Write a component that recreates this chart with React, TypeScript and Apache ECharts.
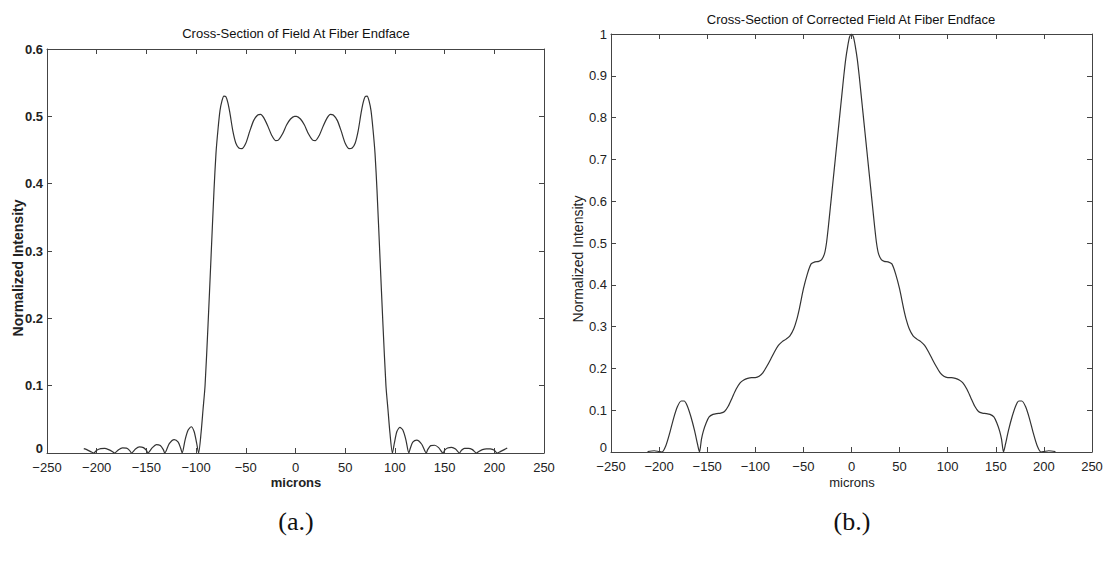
import React, { useEffect, useRef } from "react";
import * as echarts from "echarts";

// ---- Data: (a.) Cross-Section of Field At Fiber Endface ----
const fieldX = [
  -213, -210, -206, -203, -200, -196, -192, -188, -184, -182,
  -178, -174, -170, -167, -165, -161, -157, -153, -150, -148.5,
  -144, -140, -136, -133, -131.5, -127, -122, -118, -115.5, -114,
  -111, -108, -105, -102, -99.5, -97.5, -95, -93, -91, -88,
  -85, -82, -80, -78, -76, -74, -72, -70, -68, -66,
  -63, -60, -57, -54, -50, -46, -42, -38, -35, -32,
  -28, -24, -20, -17, -13, -9, -5, -1, 1, 5,
  9, 13, 17, 20, 24, 28, 32, 35, 38, 42,
  46, 50, 54, 57, 60, 63, 66, 68, 70, 72,
  74, 76, 78, 80, 82, 85, 88, 91, 93, 95,
  97.5, 99.5, 102, 105, 108, 111, 114, 115.5, 118, 122,
  127, 131.5, 133, 136, 140, 144, 148.5, 150, 153, 157,
  161, 165, 167, 170, 174, 178, 182, 184, 188, 192,
  196, 200, 203, 206, 210, 213,
];
const fieldY = [
  0.0065, 0.005, 0.002, 0.0, 0.004, 0.0065, 0.0068, 0.005, 0.002, 0.0,
  0.005, 0.0075, 0.0072, 0.004, 0.0, 0.006, 0.009, 0.008, 0.004, 0.0,
  0.008, 0.0125, 0.011, 0.005, 0.0, 0.014, 0.02, 0.016, 0.007, 0.0,
  0.02, 0.034, 0.039, 0.032, 0.015, 0.0, 0.03, 0.065, 0.1, 0.19,
  0.29, 0.39, 0.445, 0.48, 0.508, 0.523, 0.53, 0.529, 0.52, 0.505,
  0.478, 0.46, 0.453, 0.452, 0.46, 0.478, 0.494, 0.502, 0.503, 0.498,
  0.486, 0.472, 0.464, 0.465, 0.474, 0.487, 0.496, 0.5, 0.5, 0.496,
  0.487, 0.474, 0.465, 0.464, 0.472, 0.486, 0.498, 0.503, 0.502, 0.494,
  0.478, 0.46, 0.452, 0.453, 0.46, 0.478, 0.505, 0.52, 0.529, 0.53,
  0.523, 0.508, 0.48, 0.445, 0.39, 0.29, 0.19, 0.1, 0.065, 0.03,
  0.0, 0.015, 0.032, 0.038, 0.034, 0.02, 0.0, 0.007, 0.016, 0.019,
  0.013, 0.0, 0.005, 0.011, 0.0115, 0.008, 0.0, 0.004, 0.0075, 0.0085,
  0.006, 0.0, 0.004, 0.007, 0.007, 0.005, 0.0, 0.002, 0.005, 0.0062,
  0.006, 0.004, 0.0, 0.002, 0.005, 0.0075,
];

// ---- Data: (b.) Cross-Section of Corrected Field At Fiber Endface ----
const correctedX = [
  -212, -205, -200, -197, -193, -189, -185, -181, -177, -174,
  -171, -167, -163, -160, -158, -156, -154, -151, -148, -144,
  -140, -136, -132, -128, -124, -120, -116, -112, -108, -104,
  -100, -96, -92, -88, -84, -80, -76, -72, -68, -64,
  -60, -57, -54, -50, -46, -42, -38, -34, -31, -28,
  -26, -24, -22, -20, -18, -16, -14, -12, -10, -8,
  -6, -4, -2, 0, 2, 4, 6, 8, 10, 12,
  14, 16, 18, 20, 22, 24, 26, 28, 31, 34,
  38, 42, 46, 50, 54, 57, 60, 64, 68, 72,
  76, 80, 84, 88, 92, 96, 100, 104, 108, 112,
  116, 120, 124, 128, 132, 136, 140, 144, 148, 151,
  154, 156, 158, 160, 163, 167, 171, 174, 177, 181,
  185, 189, 193, 197, 200, 205, 212,
];
const correctedY = [
  0.001, 0.003, 0.001, 0.0, 0.015, 0.045, 0.08, 0.108, 0.122, 0.122,
  0.112, 0.085, 0.05, 0.018, 0.0, 0.03, 0.05, 0.07, 0.084, 0.09,
  0.092, 0.093, 0.097, 0.11, 0.13, 0.15, 0.165, 0.172, 0.176, 0.178,
  0.178, 0.181, 0.19, 0.205, 0.222, 0.24, 0.255, 0.264, 0.27, 0.278,
  0.295, 0.316, 0.345, 0.39, 0.425, 0.45, 0.455, 0.456, 0.46, 0.475,
  0.5, 0.54, 0.585, 0.63, 0.675, 0.72, 0.765, 0.81, 0.855, 0.9,
  0.94, 0.97, 0.993, 1.0, 0.993, 0.97, 0.94, 0.9, 0.855, 0.81,
  0.765, 0.72, 0.675, 0.63, 0.585, 0.54, 0.5, 0.475, 0.46, 0.456,
  0.455, 0.45, 0.425, 0.39, 0.345, 0.316, 0.295, 0.278, 0.27, 0.264,
  0.255, 0.24, 0.222, 0.205, 0.19, 0.181, 0.178, 0.178, 0.176, 0.172,
  0.165, 0.15, 0.13, 0.11, 0.097, 0.093, 0.092, 0.09, 0.084, 0.07,
  0.05, 0.03, 0.0, 0.018, 0.05, 0.085, 0.112, 0.122, 0.122, 0.108,
  0.08, 0.045, 0.015, 0.0, 0.001, 0.003, 0.001,
];

// ---- Axes / texts ----
const xMin = -250;
const xMax = 250;
const xStep = 50;
const leftYMax = 0.6;
const rightYMax = 1;
const yStep = 0.1;
const titleA = "Cross-Section of Field At Fiber Endface";
const titleB = "Cross-Section of Corrected Field At Fiber Endface";
const xName = "microns";
const yName = "Normalized Intensity";
const captionA = "(a.)";
const captionB = "(b.)";

const SANS = "'Liberation Sans', Arial, Helvetica, sans-serif";
const SERIF = "'Liberation Serif', 'Times New Roman', serif";
const INK = "#222";
const FRAME = "#444";

const fmtX = (v: number) => String(v).replace("-", "\u2212");
const fmtY = (v: number) => {
  const r = Math.round(v * 10) / 10;
  if (r === 0) return "{z|0}";
  if (r === 1) return "1";
  return r.toFixed(1);
};

function pairs(xs: number[], ys: number[]) {
  return xs.map((x, i) => [x, ys[i]]);
}

function txt(text: string, x: number, y: number, size: number, opts: any = {}) {
  return {
    type: "text",
    x,
    y,
    rotation: opts.rotation || 0,
    silent: true,
    style: {
      text,
      fill: opts.fill || INK,
      fontSize: size,
      fontFamily: opts.family || SANS,
      fontWeight: opts.weight || "normal",
      align: "center",
      verticalAlign: "middle",
      textAlign: "center",
      textVerticalAlign: "middle",
    },
  };
}

export default function App() {
  const ref = useRef<HTMLDivElement>(null);

  useEffect(() => {
    document.body.style.margin = "0";
    document.body.style.background = "#fff";
    if (!ref.current) return;
    const chart = echarts.init(ref.current, undefined, { renderer: "svg" });

    const xBottom = (grid: number) => ({
      type: "value",
      gridIndex: grid,
      position: "bottom",
      min: xMin,
      max: xMax,
      interval: xStep,
      axisLine: { show: true, onZero: false, lineStyle: { color: FRAME, width: 1 } },
      axisTick: { show: true, inside: true, length: 5, lineStyle: { color: FRAME } },
      axisLabel: {
        show: true,
        formatter: fmtX,
        fontSize: 13,
        fontFamily: SANS,
        color: INK,
        margin: 8,
        showMinLabel: true,
        showMaxLabel: true,
      },
      splitLine: { show: false },
    });
    const xTop = (grid: number) => ({
      type: "value",
      gridIndex: grid,
      position: "top",
      min: xMin,
      max: xMax,
      interval: xStep,
      axisLine: { show: true, onZero: false, lineStyle: { color: FRAME, width: 1 } },
      axisTick: { show: true, inside: true, length: 5, lineStyle: { color: FRAME } },
      axisLabel: { show: false },
      splitLine: { show: false },
    });
    const yLeft = (grid: number, max: number, bold: boolean) => ({
      type: "value",
      gridIndex: grid,
      position: "left",
      min: 0,
      max,
      interval: yStep,
      axisLine: { show: true, onZero: false, lineStyle: { color: FRAME, width: 1 } },
      axisTick: { show: true, inside: true, length: 5, lineStyle: { color: FRAME } },
      axisLabel: {
        show: true,
        formatter: fmtY,
        fontSize: 13,
        fontFamily: SANS,
        color: INK,
        margin: 4,
        fontWeight: bold ? "bold" : "normal",
        showMinLabel: true,
        showMaxLabel: true,
        rich: {
          z: {
            fontSize: 13,
            fontFamily: SANS,
            color: INK,
            fontWeight: bold ? "bold" : "normal",
            padding: [0, 0, 9, 0],
          },
        },
      },
      splitLine: { show: false },
    });
    const yRight = (grid: number, max: number) => ({
      type: "value",
      gridIndex: grid,
      position: "right",
      min: 0,
      max,
      interval: yStep,
      axisLine: { show: true, onZero: false, lineStyle: { color: FRAME, width: 1 } },
      axisTick: { show: true, inside: true, length: 5, lineStyle: { color: FRAME } },
      axisLabel: { show: false },
      splitLine: { show: false },
    });

    chart.setOption({
      animation: false,
      backgroundColor: "#ffffff",
      grid: [
        { left: 47, top: 49, width: 497, height: 404, containLabel: false },
        { left: 611, top: 34, width: 481, height: 418, containLabel: false },
      ],
      xAxis: [xBottom(0), xTop(0), xBottom(1), xTop(1)],
      yAxis: [yLeft(0, leftYMax, true), yRight(0, leftYMax), yLeft(1, rightYMax, false), yRight(1, rightYMax)],
      series: [
        {
          type: "line",
          xAxisIndex: 0,
          yAxisIndex: 0,
          data: pairs(fieldX, fieldY),
          showSymbol: false,
          smooth: 0.25,
          lineStyle: { color: "#333", width: 1.2 },
          silent: true,
        },
        {
          type: "line",
          xAxisIndex: 2,
          yAxisIndex: 2,
          data: pairs(correctedX, correctedY),
          showSymbol: false,
          smooth: 0.25,
          lineStyle: { color: "#333", width: 1.2 },
          silent: true,
        },
      ],
      graphic: [
        txt(titleA, 296, 33, 13, { fill: "#111" }),
        txt(titleB, 851, 19, 13, { fill: "#111" }),
        txt(yName, 18, 268, 14, { rotation: Math.PI / 2, weight: "bold" }),
        txt(yName, 578, 259, 14, { rotation: Math.PI / 2 }),
        txt(xName, 296, 482, 13, { weight: "bold" }),
        txt(xName, 852, 482, 13),
        txt(captionA, 296, 521, 26, { family: SERIF, fill: "#111" }),
        txt(captionB, 852, 521, 26, { family: SERIF, fill: "#111" }),
      ],
    });

    return () => {
      chart.dispose();
    };
  }, []);

  return <div ref={ref} style={{ width: 1112, height: 565 }} />;
}
